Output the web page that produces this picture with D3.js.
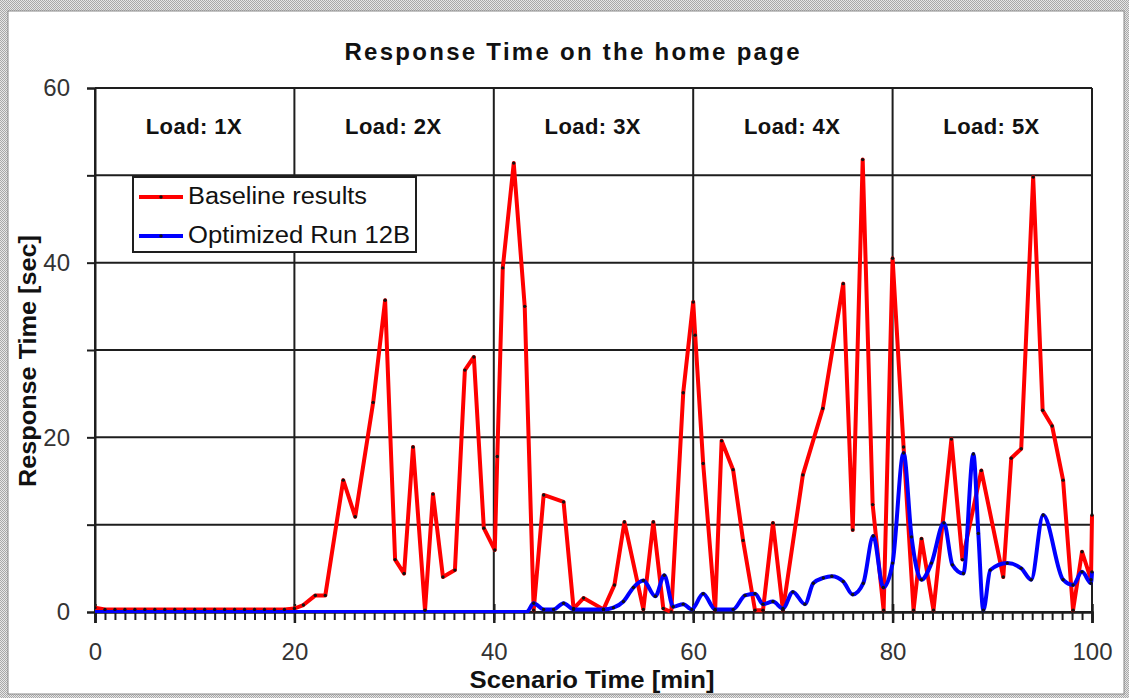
<!DOCTYPE html>
<html>
<head>
<meta charset="utf-8">
<title>Response Time on the home page</title>
<script src="https://d3js.org/d3.v7.min.js"></script>
<style>
  body { margin: 0; background: #fff; }
  svg { display: block; }
  text { font-family: "Liberation Sans", Arial, sans-serif; }
</style>
</head>
<body>
<div id="chart"></div>
<script>
// ---- data ----
var titleText = "Response Time on the home page";
var xTitle = "Scenario Time [min]";
var yTitle = "Response Time [sec]";
var loadLabels = ["Load: 1X", "Load: 2X", "Load: 3X", "Load: 4X", "Load: 5X"];
var loadStarts = [0, 20, 40, 60, 80];
var seriesNames = ["Baseline results", "Optimized Run 12B"];
var xTicks = [0, 20, 40, 60, 80, 100];
var yTicks = [0, 10, 20, 30, 40, 50, 60];

// baseline: minutes / seconds
var baseX = [0, 1, 2, 3, 4, 5, 6, 7, 8, 9, 10, 11, 12, 13, 14, 15, 16, 17, 18, 19, 20,
  20.9, 22.1, 23.1, 24.9, 26.1, 27.9, 29.1, 30.1, 31.0, 31.9, 33.1, 33.9, 34.9, 36.1, 37.1, 38.0, 39.0,
  40.1, 40.35, 40.9, 42.0, 43.1, 44.0, 45.0, 47.0, 48.0, 49.0, 51.0, 52.1, 53.1, 55.0, 56.0, 57.0, 57.8,
  59.0, 60.0, 60.2, 61.0, 62.2, 62.85, 64.0, 65.0, 66.2, 67.0, 68.0, 69.0, 71.0, 73.0, 75.05, 76.0,
  77.0, 78.0, 79.1, 80.0, 81.1, 82.1, 82.9, 84.1, 85.9, 87.0, 88.9, 91.1, 91.9, 92.9, 94.1, 95.05,
  96.0, 97.1, 98.1, 99.0, 99.9, 100];
var baseY = [0.5, 0.3, 0.3, 0.3, 0.3, 0.3, 0.3, 0.3, 0.3, 0.3, 0.3, 0.3, 0.3, 0.3, 0.3, 0.3, 0.3, 0.3, 0.3, 0.3, 0.4,
  0.8, 1.9, 1.9, 15.1, 10.9, 24.0, 35.7, 6.0, 4.4, 18.9, 0.2, 13.5, 4.0, 4.8, 27.7, 29.2, 9.6,
  7.1, 17.8, 39.4, 51.4, 35.0, 0.2, 13.4, 12.6, 0.4, 1.6, 0.3, 3.1, 10.3, 0.3, 10.3, 0.4, 0.0,
  25.1, 35.5, 31.7, 17.0, 0.2, 19.6, 16.3, 8.2, 0.2, 0.2, 10.2, 0.2, 15.7, 23.3, 37.6, 9.4,
  51.8, 12.3, 0.2, 40.5, 18.9, 0.2, 8.4, 0.2, 19.8, 6.0, 16.2, 4.0, 17.6, 18.7, 49.8, 23.1,
  21.3, 15.1, 0.2, 6.9, 3.7, 11.1];

// optimized run 12B
var optX = [0, 43.3, 44.0, 45.0, 46.0, 47.0, 48.0, 51.0, 52.0, 53.0, 54.0, 55.0, 56.2, 57.1, 58.0, 59.0,
  59.85, 61.0, 62.2, 64.0, 65.2, 66.2, 67.0, 68.0, 69.0, 70.0, 71.2, 72.05, 73.05, 73.9, 75.05, 76.0,
  77.06, 78.06, 79.07, 80.0, 81.1, 81.9, 82.9, 83.9, 85.15, 86.0, 87.1, 88.1, 88.6, 89.1, 89.8, 91.5,
  92.9, 93.9, 95.1, 97.1, 98.1, 99.0, 99.9, 100];
var optY = [0, 0, 1.0, 0.3, 0.3, 1.0, 0.3, 0.3, 0.5, 1.2, 2.8, 3.6, 1.8, 4.2, 0.6, 0.9,
  0.3, 2.1, 0.3, 0.3, 1.9, 2.1, 0.9, 1.2, 0.4, 2.3, 0.9, 3.3, 3.9, 4.1, 3.5, 2.0,
  3.3, 8.7, 2.8, 5.6, 18.2, 8.6, 3.7, 5.6, 10.2, 5.4, 4.4, 18.1, 9.0, 0.2, 4.8, 5.6,
  5.0, 3.7, 11.1, 3.7, 3.1, 4.6, 3.3, 4.6];

var W = 1129, H = 698;
var pLeft = 95, pRight = 1092, pTop = 88, pBottom = 612;

var svg = d3.select("#chart").append("svg")
  .attr("width", W).attr("height", H);

// dotted grey frame around the picture
var defs = svg.append("defs");
var pat = defs.append("pattern").attr("id", "dots")
  .attr("width", 2).attr("height", 2).attr("patternUnits", "userSpaceOnUse");
pat.append("rect").attr("width", 2).attr("height", 2).attr("fill", "#e6e6e6");
pat.append("rect").attr("width", 1).attr("height", 1).attr("fill", "#a8a8a8");
pat.append("rect").attr("x", 1).attr("y", 1).attr("width", 1).attr("height", 1).attr("fill", "#a8a8a8");
defs.append("clipPath").attr("id", "plotclip").append("rect")
  .attr("x", pLeft).attr("y", pTop - 2).attr("width", pRight - pLeft + 3).attr("height", pBottom - pTop + 3);

svg.append("rect").attr("width", W).attr("height", H).attr("fill", "url(#dots)");
svg.append("rect").attr("x", 8).attr("y", 11).attr("width", 1116).attr("height", 683)
  .attr("fill", "#fff").attr("stroke", "#8a8a8a").attr("stroke-width", 1);

var x = d3.scaleLinear().domain([0, 100]).range([pLeft, pRight]);
var y = d3.scaleLinear().domain([0, 60]).range([pBottom, pTop]);

// horizontal grid
svg.append("g").selectAll("line").data(yTicks).join("line")
  .attr("x1", pLeft).attr("x2", pRight)
  .attr("y1", d => y(d)).attr("y2", d => y(d))
  .attr("stroke", "#1e1e1e").attr("stroke-width", 2);

// vertical load separators
svg.append("g").selectAll("line").data(xTicks).join("line")
  .attr("x1", d => x(d)).attr("x2", d => x(d))
  .attr("y1", pTop).attr("y2", pBottom)
  .attr("stroke", "#1e1e1e").attr("stroke-width", 2);

// y axis
var yAxis = d3.axisLeft(y).tickValues(yTicks).tickSize(8).tickPadding(17)
  .tickFormat(d => d % 20 === 0 ? d : "");
var gy = svg.append("g").attr("transform", "translate(" + pLeft + ",0)").call(yAxis);
gy.select(".domain").attr("stroke", "#1e1e1e").attr("stroke-width", 2);
gy.selectAll(".tick line").attr("stroke", "#1e1e1e").attr("stroke-width", 2);
gy.selectAll(".tick text").attr("font-size", 24).attr("fill", "#333")
  .attr("font-family", "Liberation Sans, Arial, sans-serif");

// x axis: minor minute ticks and labelled major ticks
var minor = d3.range(0, 101);
var gxm = svg.append("g").attr("transform", "translate(0," + pBottom + ")")
  .call(d3.axisBottom(x).tickValues(minor).tickSize(8).tickFormat(""));
gxm.select(".domain").remove();
gxm.selectAll(".tick line").attr("stroke", "#1e1e1e").attr("stroke-width", 2);

var gx = svg.append("g").attr("transform", "translate(0," + pBottom + ")")
  .call(d3.axisBottom(x).tickValues(xTicks).tickSize(11).tickPadding(20));
gx.select(".domain").attr("stroke", "#1e1e1e").attr("stroke-width", 2.5);
gx.selectAll(".tick line").attr("stroke", "#1e1e1e").attr("stroke-width", 2.5).attr("y1", -8);
gx.selectAll(".tick text").attr("font-size", 24).attr("fill", "#333")
  .attr("font-family", "Liberation Sans, Arial, sans-serif");

// load labels
svg.append("g").selectAll("text").data(loadLabels).join("text")
  .attr("x", (d, i) => x(loadStarts[i] + 10) - 1)
  .attr("y", 134)
  .attr("text-anchor", "middle")
  .attr("font-size", 22).attr("font-weight", "bold").attr("fill", "#111")
  .attr("textLength", 96).attr("lengthAdjust", "spacing")
  .text(d => d);

// lines
var pts = function (xs, ys) { return xs.map((v, i) => [v, ys[i]]); };
var basePts = pts(baseX, baseY);
var optPts = pts(optX, optY);

var plot = svg.append("g").attr("clip-path", "url(#plotclip)");
plot.append("path").datum(basePts)
  .attr("fill", "none").attr("stroke", "#ff0000").attr("stroke-width", 4)
  .attr("stroke-linejoin", "round")
  .attr("d", d3.line().x(d => x(d[0])).y(d => y(d[1])));
plot.append("path").datum(optPts)
  .attr("fill", "none").attr("stroke", "#0000ff").attr("stroke-width", 4)
  .attr("stroke-linejoin", "round")
  .attr("d", d3.line().curve(d3.curveMonotoneX).x(d => x(d[0])).y(d => y(d[1])));

plot.append("g").selectAll("circle").data(basePts.concat(optPts.slice(2))).join("circle")
  .attr("cx", d => x(d[0])).attr("cy", d => y(d[1])).attr("r", 1.7).attr("fill", "#111");

// legend
var lg = svg.append("g");
lg.append("rect").attr("x", 133).attr("y", 177).attr("width", 283).attr("height", 75)
  .attr("fill", "#fff").attr("stroke", "#1e1e1e").attr("stroke-width", 2);
var lcol = ["#ff0000", "#0000ff"];
seriesNames.forEach(function (n, i) {
  var ly = 197 + i * 39;
  lg.append("line").attr("x1", 139).attr("x2", 183).attr("y1", ly).attr("y2", ly)
    .attr("stroke", lcol[i]).attr("stroke-width", 4);
  lg.append("circle").attr("cx", 161).attr("cy", ly).attr("r", 1.7).attr("fill", "#111");
  lg.append("text").attr("x", 188).attr("y", ly + 7).attr("font-size", 23).attr("fill", "#111")
    .attr("textLength", i === 0 ? 179 : 222).attr("lengthAdjust", "spacingAndGlyphs")
    .text(n);
});

// titles
svg.append("text").attr("x", 572).attr("y", 60).attr("text-anchor", "middle")
  .attr("font-size", 24).attr("font-weight", "bold").attr("fill", "#111")
  .attr("textLength", 455).attr("lengthAdjust", "spacing")
  .text(titleText);
svg.append("text").attr("x", 592).attr("y", 688).attr("text-anchor", "middle")
  .attr("font-size", 24).attr("font-weight", "bold").attr("fill", "#111")
  .attr("textLength", 245).attr("lengthAdjust", "spacingAndGlyphs")
  .text(xTitle);
svg.append("text").attr("transform", "translate(36,361) rotate(-90)").attr("text-anchor", "middle")
  .attr("font-size", 23).attr("font-weight", "bold").attr("fill", "#111")
  .attr("textLength", 252).attr("lengthAdjust", "spacingAndGlyphs")
  .text(yTitle);
</script>
</body>
</html>
